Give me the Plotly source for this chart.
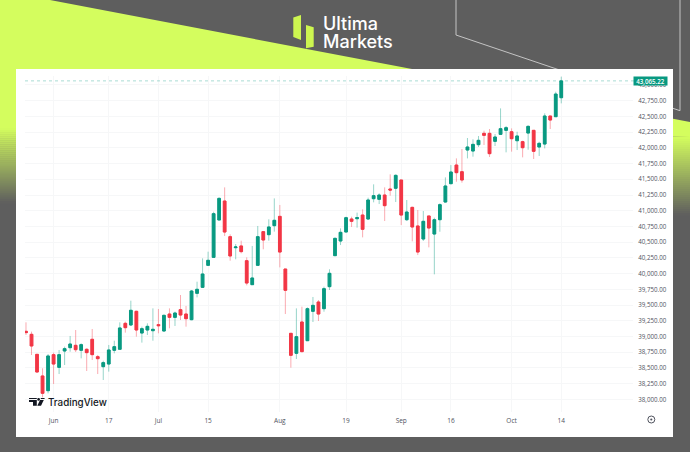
import plotly.graph_objects as go

# --- data ---
opens = [39083,39035,38717,38373,38139,38712,38510,38770,38823,38860,38781,38797,38956,38680,38521,38563,38781,38797,39210,39184,
         39401,39056,39104,39093,39189,39088,39358,39305,39427,39358,39268,39687,39782,40132,40259,40853,41155,40588,40413,40440,
         40206,39825,40132,40668,40620,40763,40911,40074,39051,38733,39231,38934,39401,39549,39443,39793,40286,40519,40662,40869,
         40874,40932,40869,41192,41182,41250,41346,41357,41489,40858,41054,40758,40551,40917,40630,40858,41139,41431,41727,41621,
         41966,41950,42051,42231,42231,42104,42215,42279,42257,42114,42099,42236,42279,42014,42061,42507,42496,42798]
highs = [39226,39078,38717,38495,38722,38744,38786,38839,39009,39104,38892,38813,39120,38707,38616,38866,38934,39226,39237,39570,
         39411,39157,39210,39448,39438,39348,39448,39396,39660,39486,39740,39872,40243,40349,40985,41213,41372,40625,40471,40524,
         40259,40440,40758,40678,40864,41197,41092,40074,39051,39448,39475,39464,39629,39581,39793,40069,40575,40720,40906,40906,
         40970,41023,41208,41420,41277,41372,41579,41579,41489,41171,41065,41012,40996,40917,40890,41118,41531,41727,41833,41982,
         42157,42136,42189,42273,42300,42220,42628,42348,42310,42257,42114,42358,42284,42098,42549,42507,42893,43132]
lows = [39024,38706,38426,38033,38097,38245,38404,38547,38759,38754,38653,38452,38627,38404,38309,38442,38733,38797,39062,39168,
        38998,38903,39024,38934,39051,39077,39131,39168,39263,39157,39260,39623,39775,40132,40259,40853,40599,40206,40228,40323,
        39814,39825,40132,40387,40524,40668,40100,39358,38505,38643,38749,38934,39231,39247,39395,39740,40286,40455,40662,40742,
        40731,40577,40853,41134,41107,40837,41240,41139,40773,40837,40514,40296,40519,40418,39989,40667,41129,41420,41462,41447,
        41833,41860,42014,42046,41855,42030,42210,41929,41940,41966,41849,41971,41823,41871,41992,42300,42496,42708]
closes = [39062,38850,38436,38097,38691,38563,38712,38807,38881,38791,38871,38744,38712,38648,38585,38786,38839,39136,39141,39417,
          39104,39125,39162,39115,39173,39337,39305,39374,39342,39284,39724,39751,39994,40212,40954,41197,40662,40281,40424,40350,
          39851,39931,40588,40535,40742,40848,40344,39735,38701,38998,38760,39443,39496,39358,39761,40005,40561,40657,40890,40832,
          40890,40705,41171,41240,41250,41081,41330,41563,40932,40980,40742,40344,40832,40726,40858,41097,41394,41616,41606,41489,
          42014,42056,42120,42199,41908,42173,42305,42321,42146,42189,42003,42342,41945,42072,42507,42443,42856,43065.22]
tick_index = [5, 15, 24, 33, 46, 58, 68, 77, 88, 97]
tick_labels = ["Jun", "17", "Jul", "15", "Aug", "19", "Sep", "16", "Oct", "14"]
price_ticks = [38000 + 250 * k for k in range(21)]
brand_lines = ["Ultima", "Markets"]

W, H = 690, 452
GREEN, RED = "#089981", "#f23645"
GREEN_WICK, RED_WICK = "rgba(8,153,129,0.42)", "rgba(242,54,69,0.42)"
DARK, LIME = "#5e5e5e", "#d4fd5e"
TXT = "#50535e"
GRID = "#f6f7f8"
FONT = "Open Sans"

x = list(range(len(closes)))
body_hi = [max(o, c) for o, c in zip(opens, closes)]
body_lo = [min(o, c) for o, c in zip(opens, closes)]


def px(v):
    return v / W


def py(v):
    return 1 - v / H


def poly(points, color, layer="below"):
    path = "M " + " L ".join(f"{px(a):.5f} {py(b):.5f}" for a, b in points) + " Z"
    return dict(type="path", xref="paper", yref="paper", path=path, fillcolor=color,
                line=dict(width=0), layer=layer)


def rect(x0, y0, x1, y1, color):
    return dict(type="rect", xref="paper", yref="paper", x0=px(x0), x1=px(x1), y0=py(y0), y1=py(y1),
                fillcolor=color, line=dict(width=0), layer="below")


def seg(x0, y0, x1, y1, color="#c4c4c4", width=1):
    return dict(type="line", xref="paper", yref="paper", x0=px(x0), x1=px(x1), y0=py(y0), y1=py(y1),
                line=dict(color=color, width=width), layer="below")


def mix(t):
    a, b = (212, 253, 94), (94, 94, 94)
    return "rgb(" + ",".join(str(round(p + (q - p) * t)) for p, q in zip(a, b)) + ")"


shapes = [poly([(0, 0), (50, 0), (412, 69), (690, 122), (690, 137), (0, 128)], LIME)]
for x0, x1, top, bot in [(0, 17, 128, 203), (672, 690, 137, 215)]:
    steps = (bot - top) // 2
    for k in range(steps):
        y0 = top + (bot - top) * k / steps
        y1 = top + (bot - top) * (k + 1) / steps
        shapes.append(rect(x0, y0, x1, y1 + 0.5, mix((k + 0.5) / steps)))
shapes += [
    seg(456, 0, 456, 35), seg(456, 35, 680, 110.7), seg(680, 110.7, 680, 0),
    rect(16, 69, 673, 437, "#ffffff"),
    poly([(293.3, 17.5), (301, 15), (301, 40), (293.3, 37)], "#cdf650"),
    poly([(306, 25), (313.7, 27.3), (313.7, 46.7), (306, 48.3)], "#cdf650"),
    # TradingView mark
    poly([(29, 398), (36.8, 398), (36.8, 405.8), (33, 405.8), (33, 402), (29, 402)], "#131722"),
    poly([(41, 398), (44.8, 398), (41, 405.8), (37.3, 405.8)], "#131722"),
    dict(type="circle", xref="paper", yref="paper", x0=px(37.2), x1=px(40), y0=py(398), y1=py(400.8),
         fillcolor="#131722", line=dict(width=0)),
    # settings glyph
    dict(type="circle", xref="paper", yref="paper", x0=px(647.8), x1=px(654.8), y0=py(416), y1=py(423),
         fillcolor="rgba(0,0,0,0)", line=dict(color="#50535e", width=1)),
    dict(type="circle", xref="paper", yref="paper", x0=px(650.2), x1=px(652.4), y0=py(418.4), y1=py(420.6),
         fillcolor="#50535e", line=dict(width=0)),
    # last price line
    dict(type="line", xref="paper", yref="y", x0=px(25), x1=px(634), y0=closes[-1], y1=closes[-1],
         line=dict(color="rgba(8,153,129,0.35)", width=1, dash="dot")),
]

fig = go.Figure()
fig.add_trace(go.Candlestick(
    x=x, open=opens, high=highs, low=lows, close=closes, name="wicks",
    increasing=dict(line=dict(color=GREEN_WICK, width=1), fillcolor="rgba(0,0,0,0)"),
    decreasing=dict(line=dict(color=RED_WICK, width=1), fillcolor="rgba(0,0,0,0)"),
    hoverinfo="skip", showlegend=False))
fig.add_trace(go.Candlestick(
    x=x, open=opens, high=body_hi, low=body_lo, close=closes, name="bodies",
    increasing=dict(line=dict(color=GREEN, width=1), fillcolor=GREEN),
    decreasing=dict(line=dict(color=RED, width=1), fillcolor=RED),
    showlegend=False))

annotations = [
    dict(xref="paper", yref="paper", x=px(320.5), y=py(24), text=brand_lines[0], showarrow=False, xanchor="left",
         yanchor="middle", font=dict(family="Inter", size=18, color="#ffffff", weight=500)),
    dict(xref="paper", yref="paper", x=px(320.5), y=py(41.5), text=brand_lines[1], showarrow=False, xanchor="left",
         yanchor="middle", font=dict(family="Inter", size=18, color="#ffffff", weight=500)),
    dict(xref="paper", yref="paper", x=px(46), y=py(402), text="TradingView", showarrow=False, xanchor="left",
         yanchor="middle", font=dict(family="Inter", size=9.8, color="#131722", weight=500)),
    dict(xref="paper", yref="y", x=px(650.5), y=closes[-1], text=f"{closes[-1]:,.2f}", showarrow=False,
         xanchor="center", yanchor="middle", bgcolor=GREEN, width=33, height=8, borderpad=0,
         font=dict(family=FONT, size=6.2, color="#ffffff", weight=600)),
]

fig.update_layout(
    width=W, height=H, autosize=False, margin=dict(l=0, r=0, t=0, b=0),
    paper_bgcolor=DARK, plot_bgcolor="rgba(0,0,0,0)",
    shapes=shapes, annotations=annotations, showlegend=False,
    xaxis=dict(domain=[px(25), px(633)], range=[-0.18, 110], rangeslider=dict(visible=False),
               tickmode="array", tickvals=tick_index, ticktext=tick_labels,
               showgrid=True, gridcolor=GRID, gridwidth=1, zeroline=False, showline=False,
               ticks="outside", ticklen=2, tickcolor="rgba(0,0,0,0)",
               tickfont=dict(family=FONT, size=6.5, color=TXT)),
    yaxis=dict(domain=[py(412), py(76)], range=[37800, 43143], side="right",
               tickmode="array", tickvals=price_ticks, ticktext=[f"{v:,.2f}" for v in price_ticks],
               showgrid=True, gridcolor=GRID, gridwidth=1, zeroline=False, showline=False,
               ticks="outside", ticklen=3, tickcolor="rgba(0,0,0,0)",
               tickfont=dict(family=FONT, size=6.2, color=TXT)),
)
fig.write_html("out.html", config=dict(displayModeBar=False),
               post_script="document.body.style.margin='0';document.body.style.overflow='hidden';")
